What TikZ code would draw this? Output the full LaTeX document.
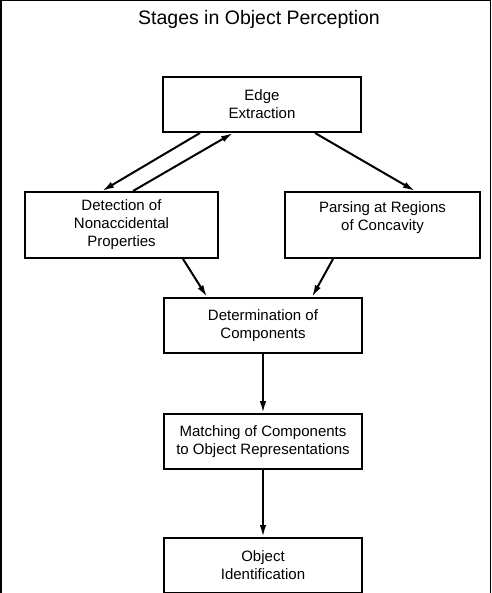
\documentclass[tikz,border=0pt]{standalone}
\usepackage{fontspec}
\setmainfont{Liberation Sans}
\usetikzlibrary{arrows.meta, positioning}

\begin{document}
\begin{tikzpicture}[
            x = 1pt, y = -1pt, % picture in pixel units
            > = {Latex[length=12pt, width=6.5pt]}, % arrow head style
            line width = 2pt, % line style
            node distance = 59pt, % distance between boxes
            font = \fontsize{15}{18}\selectfont
        ]

        \tikzset{stage/.style={
            draw = black,
            line width = 2pt,
            fill = white,
            align = center,
            minimum width = 198pt,
            minimum height = 55pt
        }}

	\useasboundingbox (0,0) rectangle (491,593);
	\draw[line width=1.5pt] (0.75,593) -- (0.75,0.75) -- (490.25,0.75) -- (490.25,593);

	\node (title) at (259,19) {\fontsize{19.5}{23}\selectfont Stages in Object Perception};

	\node[stage] (edge) at (262,104.5) {Edge\\Extraction};
	\node[stage, minimum width=193pt, minimum height=66pt] (detect) at (121.5,225) {Detection of\\Nonaccidental\\Properties};
	\node[stage, minimum width=195pt, minimum height=66pt, text depth=18pt] (parse) at (382.5,225) {Parsing at Regions\\of Concavity};
	\node[stage] (determ) at (263,325.5) {Determination of\\Components};
	\node[stage] (match) [below=of determ] {Matching of Components\\to Object Representations};
	\node[stage] (object) [below=67pt of match] {Object\\Identification};

        \draw[->] ([xshift=-62pt]edge.south) -- ([xshift=-19.5pt]detect.north);
        \draw[->] ([xshift=11.5pt]detect.north) -- ([xshift=-29pt]edge.south);
        \draw[->] ([xshift=53pt]edge.south) -- ([xshift=32.5pt]parse.north);
        \draw[->] ([xshift=61.5pt]detect.south) -- ([xshift=-56pt]determ.north);
        \draw[->] ([xshift=-49.5pt]parse.south) -- ([xshift=49pt]determ.north);
        \draw[->] (determ) -- (match);
        \draw[->] (match) -- (object);

    \end{tikzpicture}
\end{document}
